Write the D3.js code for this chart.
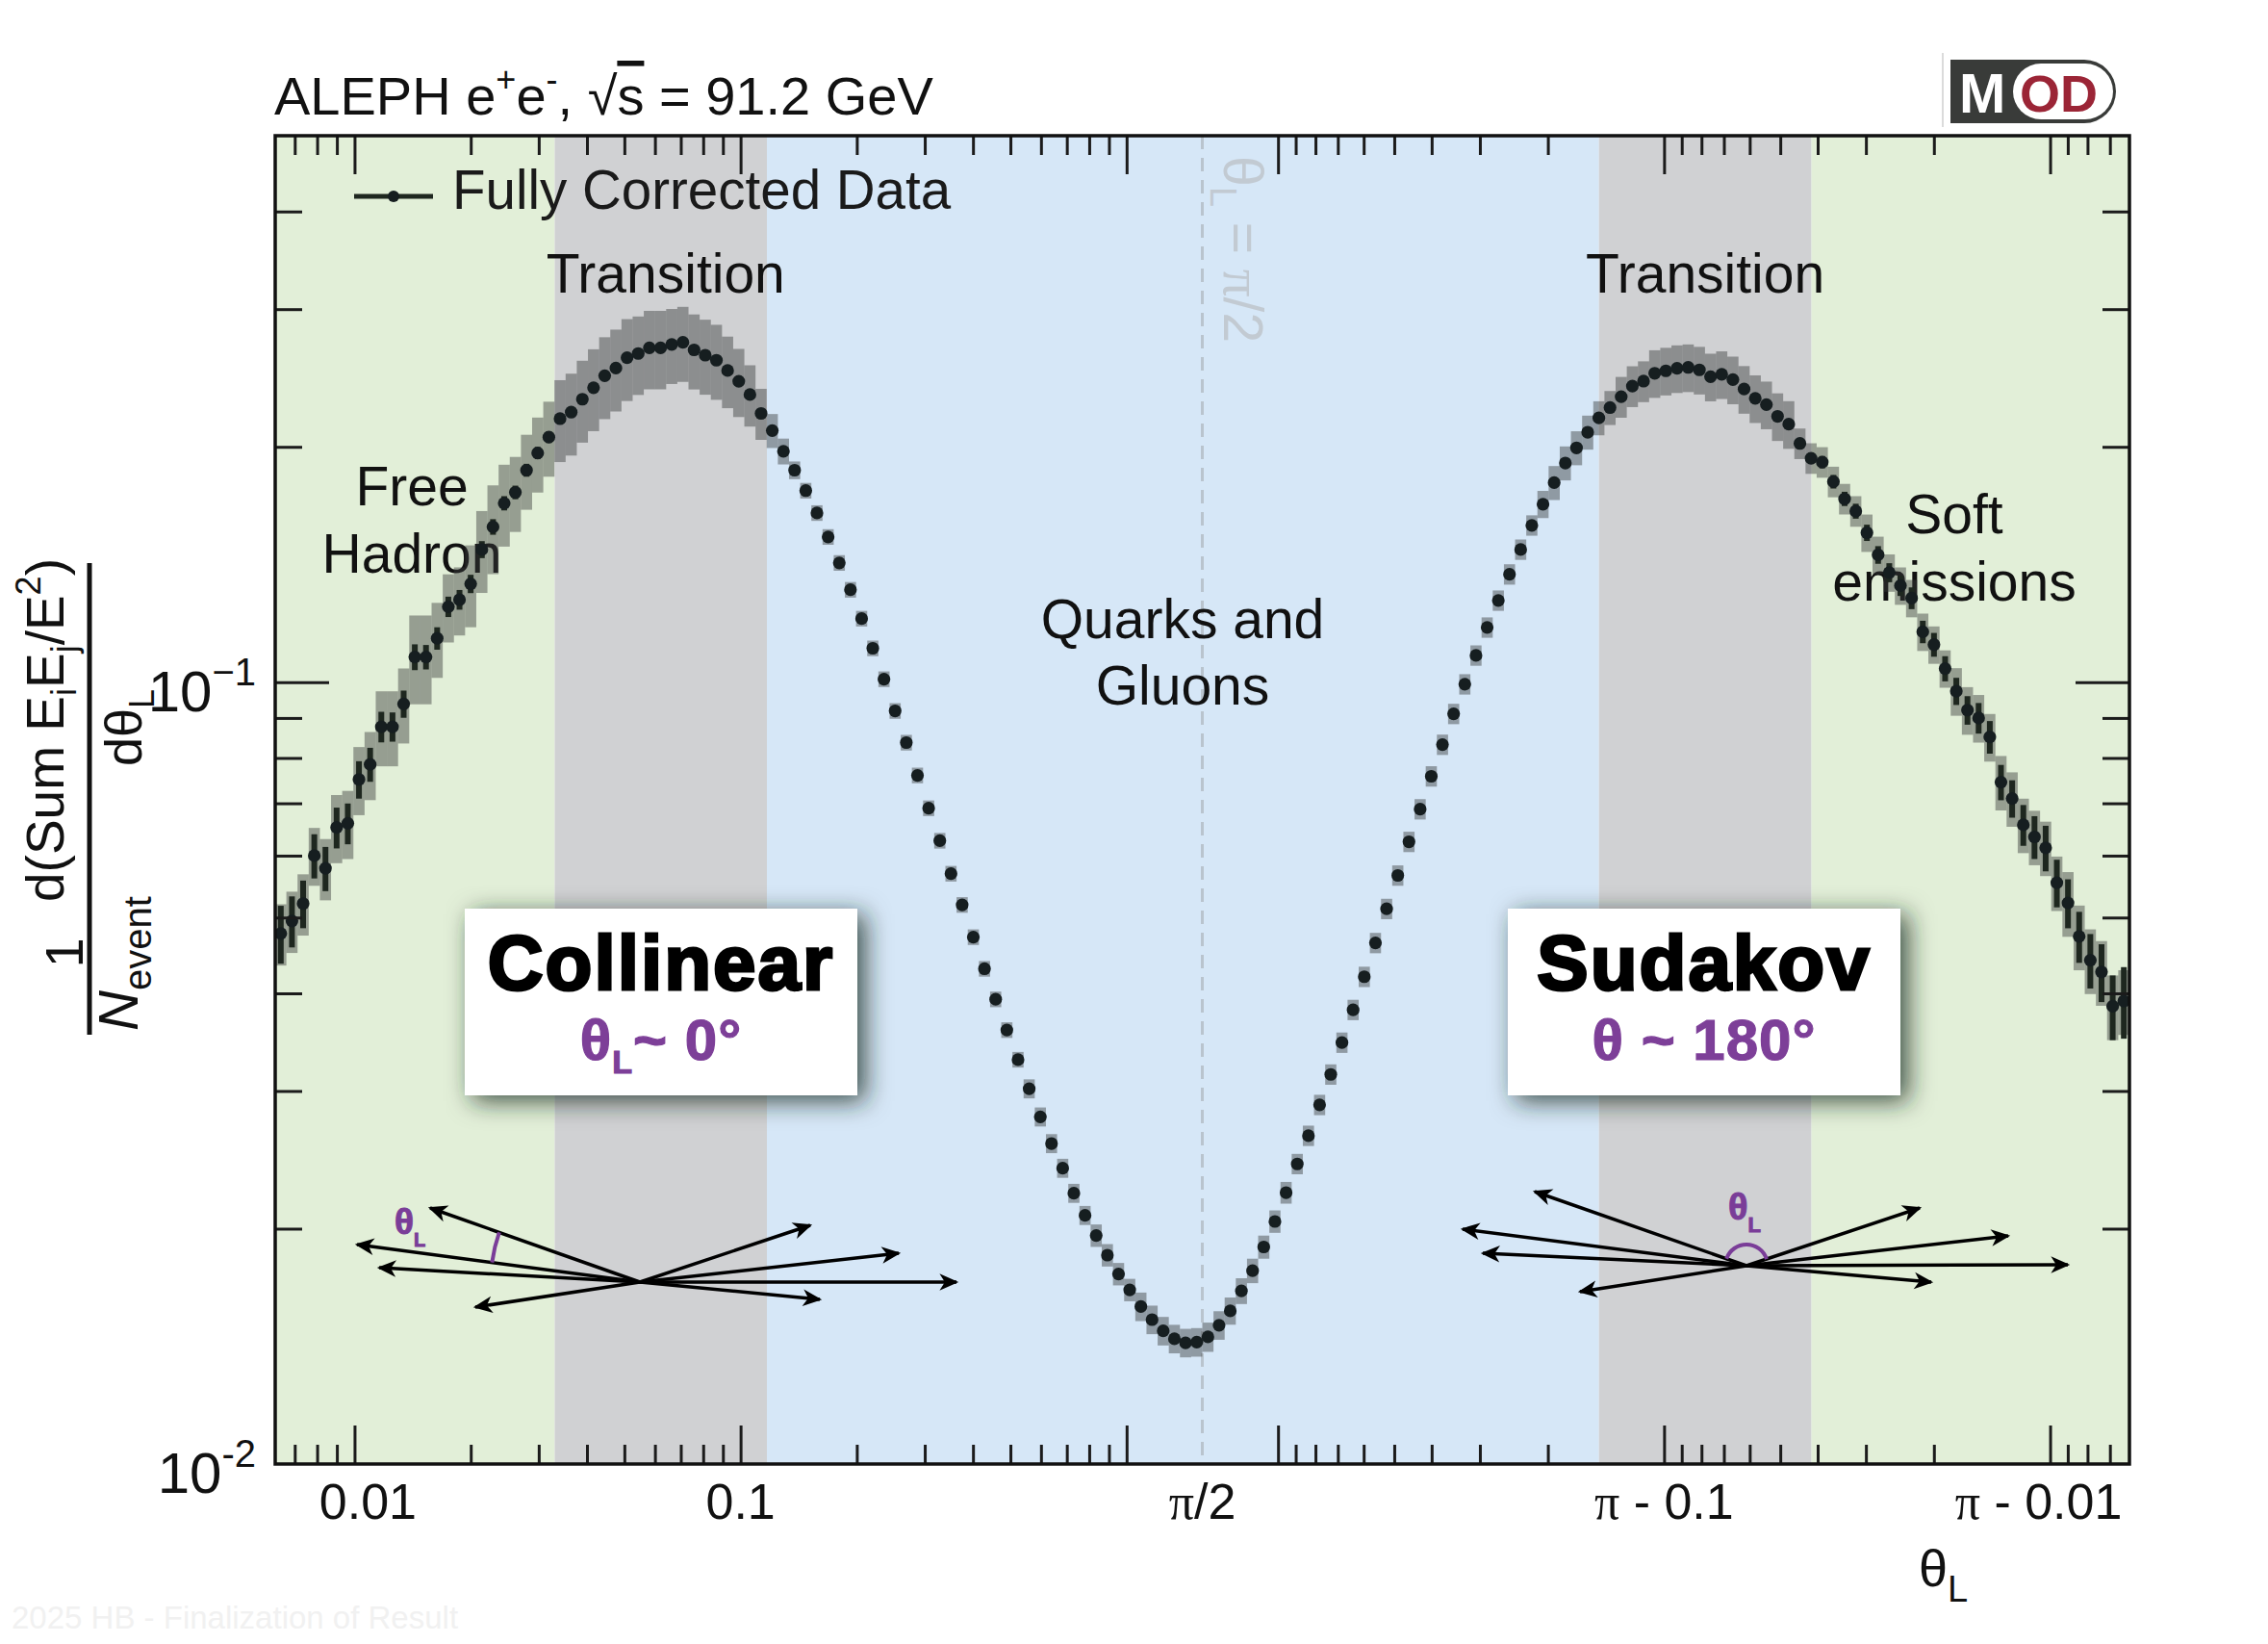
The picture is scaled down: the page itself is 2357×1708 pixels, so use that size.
<!DOCTYPE html>
<html>
<head>
<meta charset="utf-8">
<script src="https://cdn.jsdelivr.net/npm/d3@7"></script>
<style>
  body { margin: 0; background: #fff; }
  svg { display: block; font-family: "Liberation Sans", Arial, Helvetica, sans-serif; }
</style>
</head>
<body>
<svg id="chart"></svg>
<script>
// Canvas and plot frame
const width = 2357;
const height = 1708;
const plot = { left: 286, right: 2213, top: 141, bottom: 1521 };

// Binning: 83 log bins in theta below pi/2, 83 log bins in (pi - theta) above
const thetaMin = 0.00623;
const nBinsHalf = 83;

// Measured EEC values, theta from 0.0062 up to pi/2
const valuesLow = [
  0.0477, 0.0495, 0.0521, 0.0600, 0.0578, 0.0652, 0.0660, 0.0751, 0.0785, 0.0877,
  0.0877, 0.0938, 0.1077, 0.1077, 0.1138, 0.1249, 0.1275, 0.1336, 0.1478, 0.1580,
  0.1694, 0.1749, 0.1867, 0.1964, 0.2058, 0.2173, 0.2215, 0.2301, 0.2380, 0.2466,
  0.2522, 0.2601, 0.2633, 0.2677, 0.2677, 0.2704, 0.2721, 0.2661, 0.2620, 0.2581,
  0.2504, 0.2426, 0.2333, 0.2207, 0.2098, 0.1974, 0.1867, 0.1758, 0.1646, 0.1534,
  0.1421, 0.1313, 0.1206, 0.1105, 0.1009, 0.0919, 0.0837, 0.0760, 0.0690, 0.0627,
  0.0569, 0.0519, 0.0472, 0.0430, 0.0393, 0.0359, 0.0329, 0.0302, 0.0278, 0.0257,
  0.0239, 0.0222, 0.0208, 0.0196, 0.0185, 0.0175, 0.0167, 0.0159, 0.0153, 0.0148,
  0.01446, 0.01429, 0.01432
];
// Measured EEC values, theta from pi/2 up to pi - 0.0062
const valuesHigh = [
  0.01454, 0.01505, 0.0157, 0.01665, 0.01767, 0.01895, 0.02043, 0.02224, 0.0242, 0.0263,
  0.0288, 0.0315, 0.0346, 0.0381, 0.0420, 0.0464, 0.0513, 0.0566, 0.0625, 0.0688,
  0.0758, 0.0832, 0.0911, 0.0994, 0.1082, 0.1175, 0.1272, 0.1374, 0.1478, 0.1587,
  0.1689, 0.1800, 0.1907, 0.1994, 0.2088, 0.2178, 0.2245, 0.2318, 0.2392, 0.2427,
  0.2484, 0.2502, 0.2520, 0.2527, 0.2509, 0.2459, 0.2476, 0.2438, 0.2371, 0.2307,
  0.2265, 0.2188, 0.2138, 0.2020, 0.1934, 0.1912, 0.1805, 0.1716, 0.1655, 0.1553,
  0.1455, 0.1381, 0.1329, 0.1281, 0.1160, 0.1117, 0.1041, 0.0974, 0.0921, 0.0900,
  0.0851, 0.0745, 0.0710, 0.0657, 0.0634, 0.0614, 0.0554, 0.0522, 0.0473, 0.0441,
  0.0426, 0.0385, 0.0391
];
// Systematic uncertainty (%)
const sysLow = [
  9, 9, 9, 8.5, 9, 10, 10, 10, 10, 11,
  11, 11, 13, 13, 11, 10, 10, 12, 12, 13,
  12, 11, 11, 11, 11, 12, 12, 12, 12, 12,
  12, 12, 11.5, 11.5, 11.5, 11, 11, 11, 11, 11,
  10.5, 10, 9, 7.5, 5, 3.8, 2.6, 2.3, 2.3, 2.3,
  2.3, 2.3, 2.3, 2.3, 2.3, 2.3, 2.3, 2.3, 2.3, 2.3,
  2.3, 2.3, 2.3, 2.3, 2.3, 2.3, 2.3, 2.8, 2.8, 2.8,
  2.8, 2.8, 2.8, 3.3, 3.3, 3.3, 3.3, 4.2, 4.2, 4.2,
  4.2, 4.2, 4.2
];
const sysHigh = [
  4.3, 4.2, 4, 3.8, 3.6, 3.4, 3.3, 3.2, 3, 3,
  3, 3, 3, 3, 3, 3, 3, 3, 3, 3,
  3, 3, 3, 3, 3, 3, 3, 3, 3, 3,
  4, 5, 5, 5, 5, 5, 5, 6, 6, 6,
  7, 7, 7, 7, 7, 7, 7, 7, 7, 7,
  7, 7, 7, 4.5, 4.5, 4.5, 4.5, 4.5, 4.5, 5.5,
  5.5, 5.5, 5.5, 5.5, 5.5, 5.5, 5.5, 7, 7, 7,
  7, 8, 8, 8, 8, 8, 8, 9.5, 9.5, 9.5,
  9.5, 9.5, 9.5
];
// Statistical uncertainty (%)
const statLow = [
  8.5, 7.5, 7, 6.5, 6.5, 6, 6, 5.5, 5, 4.5,
  4.3, 4, 3.8, 3.6, 3.3, 3, 2.9, 2.7, 2.5, 2.3,
  2.1, 2, 1.9, 1.8, 1.7, 1.6, 1.5, 1.2, 1.2, 1.2,
  1.2, 1.2, 1.2, 1.2, 1.2, 1.2, 1.2, 1.2, 1.2, 1.2,
  1.2, 1.2, 1.2, 1.2, 1.2, 1.2, 1.2, 1.2, 1.2, 1.2,
  1.2, 1.2, 1.2, 1.2, 1.2, 1.2, 1.2, 1.2, 1.2, 1.2,
  1.2, 1.2, 1.2, 1.2, 1.2, 1.2, 1.2, 1.2, 1.2, 1.2,
  1.2, 1.2, 1.2, 1.2, 1.2, 1.2, 1.2, 1.2, 1.2, 1.2,
  1.2, 1.2, 1.2
];
const statHigh = [
  1, 1, 1, 1, 1, 1, 1, 1, 1, 1,
  1, 1, 1, 1, 1, 1, 1, 1, 1, 1,
  1, 1, 1, 1, 1, 1, 1, 1, 1, 1,
  1, 1, 1, 1, 1, 1, 1, 1, 1, 1,
  1, 1, 1, 1, 1, 1, 1, 1, 1, 1,
  1, 1, 1, 1.5, 1.6, 1.8, 2, 2.1, 2.2, 2.4,
  2.6, 2.8, 3, 3.2, 3.3, 3.5, 3.7, 4, 4.2, 4.5,
  4.8, 5.2, 5.5, 6, 6.3, 6.7, 7, 7.2, 7.5, 8,
  8.5, 9.5, 10.5
];

// Background regions (theta edges) and their colours
const bandEdges = [thetaMin, 0.033, 0.117, Math.PI - 0.1475, Math.PI - 0.0415, Math.PI - thetaMin];
const bandColors = ["#e2efd8", "#d0d1d3", "#d6e7f7", "#d0d1d3", "#e2efd8"];

// Axis ticks
const lowMinorTicks = [0.007, 0.008, 0.009, 0.02, 0.03, 0.04, 0.05, 0.06, 0.07, 0.08, 0.09,
                       0.2, 0.3, 0.4, 0.5, 0.6, 0.7, 0.8, 0.9];
const lowMajorTicks = [0.01, 0.1, 1];
const xLabels = [
  { theta: 0.01, text: "0.01" },
  { theta: 0.1, text: "0.1" },
  { theta: Math.PI / 2, text: "π/2" },
  { theta: Math.PI - 0.1, text: "π - 0.1" },
  { theta: Math.PI - 0.01, text: "π - 0.01" }
];
const yMinorTicks = [0.02, 0.03, 0.04, 0.05, 0.06, 0.07, 0.08, 0.09, 0.2, 0.3, 0.4];
const yMajorTicks = [0.1];
const yLabels = [
  { value: 0.1, base: "10", exp: "−1" },
  { value: 0.01, base: "10", exp: "-2" }
];

// Scales: symmetric log axis around pi/2
const halfPi = Math.PI / 2;
const toU = t => t <= halfPi ? Math.log10(t) : 2 * Math.log10(halfPi) - Math.log10(Math.PI - t);
const x = d3.scaleLinear()
    .domain([toU(thetaMin), toU(Math.PI - thetaMin)])
    .range([plot.left, plot.right]);
const y = d3.scaleLog()
    .domain([0.01, 0.5])
    .range([plot.bottom, plot.top]);

// Build the points from the bins
const uStep = (toU(halfPi) - toU(thetaMin)) / nBinsHalf;
const points = [];
valuesLow.forEach((v, i) => {
    points.push({ u: toU(thetaMin) + (i + 0.5) * uStep, v: v, sys: sysLow[i], stat: statLow[i] });
});
valuesHigh.forEach((v, i) => {
    points.push({ u: toU(halfPi) + (i + 0.5) * uStep, v: v, sys: sysHigh[i], stat: statHigh[i] });
});

const svg = d3.select("#chart")
    .attr("width", width)
    .attr("height", height)
    .attr("viewBox", `0 0 ${width} ${height}`);
svg.append("rect").attr("width", width).attr("height", height).attr("fill", "#fff");

const defs = svg.append("defs");
defs.append("marker")
    .attr("id", "arrowhead")
    .attr("viewBox", "0 0 20 20")
    .attr("refX", 17).attr("refY", 10)
    .attr("markerWidth", 22).attr("markerHeight", 22)
    .attr("markerUnits", "userSpaceOnUse")
    .attr("orient", "auto")
  .append("path")
    .attr("d", "M1,2 L19,10 L1,18 L6,10 Z")
    .attr("fill", "#000");
const shadow = defs.append("filter").attr("id", "shadow")
    .attr("x", "-30%").attr("y", "-40%").attr("width", "160%").attr("height", "190%");
shadow.append("feDropShadow")
    .attr("dx", 8).attr("dy", 6).attr("stdDeviation", 13)
    .attr("flood-color", "#1c2a22").attr("flood-opacity", 0.8);

// Background regions
svg.append("g").selectAll("rect")
    .data(d3.pairs(bandEdges))
    .join("rect")
    .attr("x", d => x(toU(d[0])))
    .attr("width", d => x(toU(d[1])) - x(toU(d[0])))
    .attr("y", plot.top)
    .attr("height", plot.bottom - plot.top)
    .attr("fill", (d, i) => bandColors[i]);

// pi/2 marker
svg.append("line")
    .attr("x1", x(toU(halfPi))).attr("x2", x(toU(halfPi)))
    .attr("y1", plot.top).attr("y2", plot.bottom)
    .attr("stroke", "#b9c4ce").attr("stroke-width", 3)
    .attr("stroke-dasharray", "14 9");
const piLabel = svg.append("text")
    .attr("transform", `translate(${x(toU(halfPi)) + 22},162) rotate(90)`)
    .attr("font-size", 57).attr("fill", "#c2cad2");
piLabel.append("tspan").text("θ");
piLabel.append("tspan").text("L").attr("font-size", 38).attr("dy", 14);
piLabel.append("tspan").text(" = ").attr("dy", -14);
piLabel.append("tspan").text("π").attr("font-family", "'Liberation Serif', serif");
piLabel.append("tspan").text("/2");

// Event sketches
const diagrams = [
    { cx: 665, cy: 1332, tips: [[447, 1255], [371, 1293], [394, 1317], [494, 1358], [842, 1273], [934, 1302], [994, 1332], [852, 1350]],
      arc: { r: 155, from: 0, to: 1, sweep: 0 }, label: { x: 410, y: 1282, size: 37, sub: 20 } },
    { cx: 1815, cy: 1315, tips: [[1595, 1238], [1520, 1277], [1541, 1302], [1642, 1342], [1995, 1255], [2087, 1284], [2149, 1314], [2007, 1332]],
      arc: { r: 22, from: 0, to: 4, sweep: 1 }, label: { x: 1796, y: 1267, size: 38, sub: 22 } }
];
diagrams.forEach(dg => {
    const g = svg.append("g");
    g.selectAll("line").data(dg.tips).join("line")
        .attr("x1", dg.cx).attr("y1", dg.cy)
        .attr("x2", d => d[0]).attr("y2", d => d[1])
        .attr("stroke", "#000").attr("stroke-width", 3.5)
        .attr("marker-end", "url(#arrowhead)");
    const a0 = Math.atan2(dg.tips[dg.arc.from][1] - dg.cy, dg.tips[dg.arc.from][0] - dg.cx);
    const a1 = Math.atan2(dg.tips[dg.arc.to][1] - dg.cy, dg.tips[dg.arc.to][0] - dg.cx);
    const r = dg.arc.r;
    g.append("path")
        .attr("d", `M${dg.cx + r * Math.cos(a0)},${dg.cy + r * Math.sin(a0)} A${r},${r} 0 0 ${dg.arc.sweep} ${dg.cx + r * Math.cos(a1)},${dg.cy + r * Math.sin(a1)}`)
        .attr("fill", "none").attr("stroke", "#7a3d98").attr("stroke-width", 4);
    const t = g.append("text").attr("x", dg.label.x).attr("y", dg.label.y)
        .attr("font-size", dg.label.size).attr("font-weight", "bold").attr("fill", "#7a3d98")
        .attr("stroke", "#7a3d98").attr("stroke-width", 1);
    t.append("tspan").text("θ");
    t.append("tspan").text("L").attr("font-size", dg.label.sub).attr("dy", 13);
});

// Region labels
const regionText = (lines, cx, baseline, gap) => {
    const t = svg.append("text").attr("text-anchor", "middle").attr("font-size", 57).attr("fill", "#111");
    lines.forEach((s, i) => t.append("tspan").attr("x", cx).attr("y", baseline + i * gap).text(s));
};
regionText(["Transition"], x((toU(bandEdges[1]) + toU(bandEdges[2])) / 2) + 5, 304, 0);
regionText(["Transition"], x((toU(bandEdges[3]) + toU(bandEdges[4])) / 2), 304, 0);
regionText(["Free", "Hadron"], 428, 525, 70);
regionText(["Quarks and", "Gluons"], 1229, 663, 69);
regionText(["Soft", "emissions"], 2031, 554, 70);

// Systematic boxes
svg.append("g").selectAll("rect")
    .data(points)
    .join("rect")
    .attr("x", d => x(d.u - uStep / 2))
    .attr("width", d => x(d.u + uStep / 2) - x(d.u - uStep / 2))
    .attr("y", d => y(d.v * (1 + d.sys / 100)))
    .attr("height", d => y(d.v * (1 - d.sys / 100)) - y(d.v * (1 + d.sys / 100)))
    .attr("fill", "#3a3c3c").attr("fill-opacity", 0.45);

// Statistical error bars
svg.append("g").selectAll("line")
    .data(points)
    .join("line")
    .attr("x1", d => x(d.u)).attr("x2", d => x(d.u))
    .attr("y1", d => y(d.v * (1 + d.stat / 100)))
    .attr("y2", d => y(d.v * (1 - d.stat / 100)))
    .attr("stroke", "#1e271f").attr("stroke-width", 6);

// Data points
svg.append("g").selectAll("circle")
    .data(points)
    .join("circle")
    .attr("cx", d => x(d.u))
    .attr("cy", d => y(d.v))
    .attr("r", 6.6)
    .attr("fill", "#161e20");

// Collinear / Sudakov boxes
const tagBox = (x0, x1, title, purple) => {
    const g = svg.append("g");
    g.append("rect").attr("x", x0).attr("y", 944).attr("width", x1 - x0).attr("height", 194)
        .attr("fill", "#fff").attr("filter", "url(#shadow)");
    g.append("text").attr("x", (x0 + x1) / 2).attr("y", 1028)
        .attr("text-anchor", "middle").attr("font-size", 80).attr("font-weight", "bold")
        .attr("stroke", "#000").attr("stroke-width", 3)
        .attr("letter-spacing", 2)
        .text(title);
    const t = g.append("text").attr("x", (x0 + x1) / 2).attr("y", 1101)
        .attr("text-anchor", "middle").attr("font-size", 60).attr("font-weight", "bold")
        .attr("letter-spacing", 1)
        .attr("fill", "#7d3f98").attr("stroke", "#7d3f98").attr("stroke-width", 1.2);
    purple.forEach(p => {
        const s = t.append("tspan").text(p.text);
        if (p.sub) s.attr("font-size", 34).attr("dy", 14);
        if (p.back) s.attr("dy", -14);
    });
};
tagBox(483, 891, "Collinear", [{ text: "θ" }, { text: "L", sub: true }, { text: "~ 0°", back: true }]);
tagBox(1567, 1975, "Sudakov", [{ text: "θ ~ 180°" }]);

// Ticks
const tickLine = g => g.attr("color", "#1b1b1b")
    .call(s => s.select(".domain").remove())
    .call(s => s.selectAll("line").attr("stroke-width", 3));
const xMinor = lowMinorTicks.concat(lowMinorTicks.map(d => Math.PI - d)).map(toU);
const xMajor = lowMajorTicks.concat(lowMajorTicks.map(d => Math.PI - d)).map(toU);
[[xMinor, 20], [xMajor, 40]].forEach(([vals, len]) => {
    svg.append("g").attr("transform", `translate(0,${plot.bottom})`)
        .call(d3.axisBottom(x).tickValues(vals).tickSize(-len).tickFormat("")).call(tickLine);
    svg.append("g").attr("transform", `translate(0,${plot.top})`)
        .call(d3.axisTop(x).tickValues(vals).tickSize(-len).tickFormat("")).call(tickLine);
});
[[yMinorTicks, 28], [yMajorTicks, 56]].forEach(([vals, len]) => {
    svg.append("g").attr("transform", `translate(${plot.left},0)`)
        .call(d3.axisLeft(y).tickValues(vals).tickSize(-len).tickFormat("")).call(tickLine);
    svg.append("g").attr("transform", `translate(${plot.right},0)`)
        .call(d3.axisRight(y).tickValues(vals).tickSize(-len).tickFormat("")).call(tickLine);
});

// Frame
svg.append("rect")
    .attr("x", plot.left).attr("y", plot.top)
    .attr("width", plot.right - plot.left).attr("height", plot.bottom - plot.top)
    .attr("fill", "none").attr("stroke", "#111").attr("stroke-width", 3.5);

// Tick labels (the outermost labels sit slightly inward of their ticks)
const labelShift = { "0.01": 14, "π - 0.01": -12 };
xLabels.forEach(d => {
    const t = svg.append("text")
        .attr("x", x(toU(d.theta)) + (labelShift[d.text] || 0)).attr("y", 1578)
        .attr("text-anchor", "middle").attr("font-size", 52).attr("fill", "#111");
    d.text.split(/(π)/).filter(s => s).forEach(s => {
        t.append("tspan").text(s).attr("font-family", s === "π" ? "'Liberation Serif', serif" : null);
    });
});
yLabels.forEach(d => {
    const t = svg.append("text")
        .attr("x", 266).attr("y", y(d.value) + 30)
        .attr("text-anchor", "end").attr("font-size", 60).attr("fill", "#111");
    t.append("tspan").text(d.base);
    t.append("tspan").text(d.exp).attr("font-size", 40).attr("dy", -27);
});

// X axis title
const xTitle = svg.append("text").attr("x", 1994).attr("y", 1648).attr("font-size", 54).attr("fill", "#111");
xTitle.append("tspan").text("θ");
xTitle.append("tspan").text("L").attr("font-size", 38).attr("dy", 16);

// Y axis title (rotated fractions)
const yTitle = svg.append("g").attr("transform", "rotate(-90)").attr("fill", "#111");
const num = yTitle.append("text").attr("x", -937).attr("y", 66).attr("font-size", 55);
num.append("tspan").text("d(Sum E");
num.append("tspan").text("i").attr("font-size", 36).attr("dy", 13);
num.append("tspan").text("E").attr("dy", -13);
num.append("tspan").text("j").attr("font-size", 36).attr("dy", 13);
num.append("tspan").text("/E").attr("dy", -13);
num.append("tspan").text("2").attr("font-size", 36).attr("dy", -24);
num.append("tspan").text(")").attr("dy", 24);
yTitle.append("line")
    .attr("x1", -1075).attr("x2", -585).attr("y1", 93).attr("y2", 93)
    .attr("stroke", "#111").attr("stroke-width", 5);
const den = yTitle.append("text").attr("x", -796).attr("y", 147).attr("font-size", 54);
den.append("tspan").text("dθ");
den.append("tspan").text("L").attr("font-size", 36).attr("dy", 13);
yTitle.append("text").attr("x", -990).attr("y", 86).attr("text-anchor", "middle").attr("font-size", 56).text("1");
const nev = yTitle.append("text").attr("x", -1071).attr("y", 143).attr("font-size", 58);
nev.append("tspan").text("N").attr("font-style", "italic");
nev.append("tspan").text("event").attr("font-size", 40).attr("dy", 14);

// Title
const title = svg.append("text").attr("x", 285).attr("y", 119).attr("font-size", 56).attr("fill", "#111");
title.append("tspan").text("ALEPH e");
title.append("tspan").text("+").attr("font-size", 36).attr("dy", -24);
title.append("tspan").text("e").attr("dy", 24);
title.append("tspan").text("-").attr("font-size", 36).attr("dy", -24);
title.append("tspan").text(", √").attr("dy", 24);
title.append("tspan").text("s").style("text-decoration", "overline");
title.append("tspan").text(" = 91.2 GeV");

// Legend
const legend = svg.append("g");
legend.append("line").attr("x1", 368).attr("x2", 450).attr("y1", 204).attr("y2", 204)
    .attr("stroke", "#1e271f").attr("stroke-width", 5);
legend.append("circle").attr("cx", 409).attr("cy", 204).attr("r", 6).attr("fill", "#161e20");
legend.append("text").attr("x", 470).attr("y", 217).attr("font-size", 56.5).attr("fill", "#1a1a1a")
    .text("Fully Corrected Data");

// MOD logo
const logo = svg.append("g");
logo.append("line").attr("x1", 2019).attr("x2", 2019).attr("y1", 55).attr("y2", 132)
    .attr("stroke", "#cfcfcf").attr("stroke-width", 1.5);
logo.append("path")
    .attr("d", "M2027,62 H2166 A33,33 0 0 1 2166,128 H2027 Z")
    .attr("fill", "#393b39");
logo.append("rect").attr("x", 2092).attr("y", 66).attr("width", 104).attr("height", 58)
    .attr("rx", 29).attr("fill", "#fff");
logo.append("text").attr("x", 2036).attr("y", 117).attr("font-size", 58).attr("font-weight", "bold")
    .attr("fill", "#fff").text("M");
logo.append("text").attr("x", 2099).attr("y", 116).attr("font-size", 54).attr("font-weight", "bold")
    .attr("fill", "#9b2536").text("OD");

// Footer
svg.append("text").attr("x", 12).attr("y", 1692).attr("font-size", 33).attr("fill", "#f1f1f1")
    .text("2025 HB - Finalization of Result");
</script>
</body>
</html>
